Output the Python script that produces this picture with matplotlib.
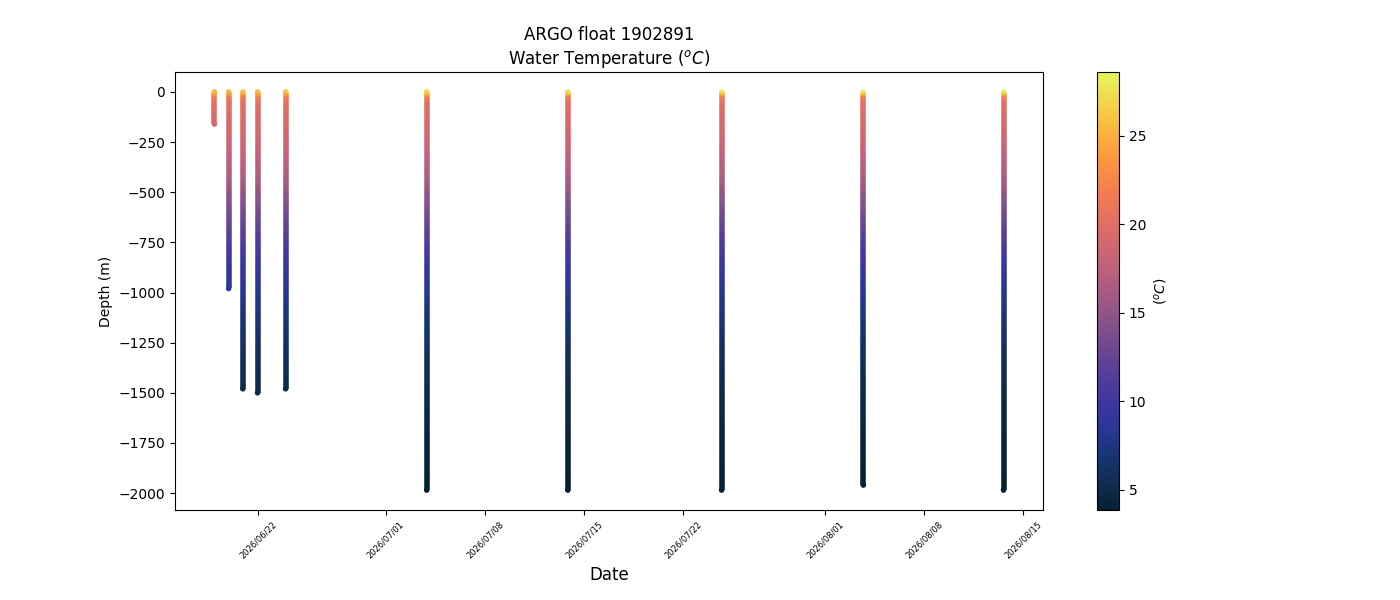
import datetime as dt

import matplotlib
matplotlib.use("Agg")
import matplotlib.pyplot as plt
import matplotlib.dates as mdates
import numpy as np
from matplotlib.colors import LinearSegmentedColormap, Normalize
from matplotlib.collections import LineCollection

# Profile dates (one profile per cycle) and max depth reached
profile_dates = [
    dt.datetime(2026, 6, 18, 22, 0),
    dt.datetime(2026, 6, 19, 22, 0),
    dt.datetime(2026, 6, 20, 22, 0),
    dt.datetime(2026, 6, 21, 23, 0),
    dt.datetime(2026, 6, 23, 22, 30),
    dt.datetime(2026, 7, 3, 21, 30),
    dt.datetime(2026, 7, 13, 20, 30),
    dt.datetime(2026, 7, 24, 17, 0),
    dt.datetime(2026, 8, 3, 17, 0),
    dt.datetime(2026, 8, 13, 14, 30),
]
max_depths = [160, 980, 1480, 1500, 1480, 1985, 1985, 1985, 1960, 1985]

# temperature near surface (0, 10, 20 m) for each profile
surface_levels = [0, 10, 20]
surface_temps = [
    [25.5, 24.0, 22.5],
    [25.5, 24.0, 22.5],
    [25.8, 24.3, 22.5],
    [25.8, 24.3, 22.5],
    [26.0, 24.5, 22.5],
    [27.0, 25.0, 23.0],
    [27.5, 25.5, 23.0],
    [28.0, 25.5, 23.0],
    [28.6, 25.5, 23.0],
    [28.5, 25.5, 23.0],
]

# common temperature profile below 20 m
deep_levels = [30, 50, 75, 100, 125, 150, 160, 175, 200, 225, 250, 275, 300, 325,
               350, 375, 400, 425, 450, 475, 500, 525, 550, 575, 600, 625, 650,
               675, 700, 725, 750, 775, 800, 825, 850, 875, 900, 925, 950, 980,
               1000, 1025, 1050, 1075, 1100, 1125, 1150, 1175, 1200, 1225, 1250,
               1275, 1300, 1325, 1350, 1375, 1400, 1425, 1450, 1480, 1500, 1525,
               1550, 1575, 1600, 1625, 1650, 1675, 1700, 1725, 1750, 1775, 1800,
               1825, 1850, 1875, 1900, 1925, 1960, 1985]
deep_temps = [21.5, 20.6, 20.1, 19.8, 19.6, 19.4, 19.3, 19.2, 19.0, 18.8, 18.6,
              18.4, 18.1, 17.8, 17.5, 17.2, 16.9, 16.5, 16.1, 15.7, 15.2, 14.8,
              14.3, 13.9, 13.5, 13.1, 12.7, 12.3, 11.9, 11.5, 11.1, 10.7, 10.4,
              10.1, 9.8, 9.5, 9.2, 8.9, 8.7, 8.4, 8.2, 7.9, 7.7, 7.5, 7.3, 7.1,
              6.9, 6.7, 6.5, 6.35, 6.2, 6.05, 5.9, 5.8, 5.65, 5.55, 5.4, 5.3,
              5.2, 5.1, 5.0, 4.9, 4.85, 4.75, 4.7, 4.6, 4.55, 4.5, 4.4, 4.35,
              4.3, 4.25, 4.2, 4.15, 4.1, 4.05, 4.0, 3.95, 3.9, 3.85]

# approximation of cmocean "thermal"
thermal = LinearSegmentedColormap.from_list("thermal", [
    (0.00, (0.020, 0.130, 0.195)),
    (0.05, (0.055, 0.170, 0.300)),
    (0.12, (0.090, 0.205, 0.450)),
    (0.18, (0.160, 0.215, 0.580)),
    (0.25, (0.250, 0.215, 0.630)),
    (0.32, (0.350, 0.250, 0.590)),
    (0.40, (0.480, 0.305, 0.555)),
    (0.46, (0.590, 0.335, 0.530)),
    (0.52, (0.690, 0.365, 0.505)),
    (0.58, (0.780, 0.395, 0.465)),
    (0.65, (0.870, 0.430, 0.400)),
    (0.72, (0.945, 0.480, 0.325)),
    (0.80, (0.980, 0.590, 0.245)),
    (0.86, (0.975, 0.700, 0.240)),
    (0.93, (0.950, 0.830, 0.290)),
    (1.00, (0.900, 0.965, 0.360)),
])

# build the point lists, one profile at a time
profiles = []
for date, maxd, stemps in zip(profile_dates, max_depths, surface_temps):
    lv = surface_levels + deep_levels
    tv = stemps + deep_temps
    d = [-z for z in lv if z <= maxd]
    t = [tt for z, tt in zip(lv, tv) if z <= maxd]
    profiles.append((date, d, t))

all_temps = [tt for p in profiles for tt in p[2]]
norm = Normalize(vmin=min(all_temps), vmax=max(all_temps))

fig, ax = plt.subplots(figsize=(14, 6), dpi=100)
fig.subplots_adjust(bottom=0.15)

for date, d, t in profiles:
    x = mdates.date2num(date)
    segs = [[(x, d[i]), (x, d[i + 1])] for i in range(len(d) - 1)]
    seg_t = [(t[i] + t[i + 1]) / 2 for i in range(len(t) - 1)]
    lc = LineCollection(segs, cmap=thermal, norm=norm, linewidths=4.0,
                        capstyle='butt')
    lc.set_array(np.array(seg_t))
    ax.add_collection(lc)
    # rounded ends of each profile
    ax.scatter([date, date], [d[0], d[-1]], c=[t[0], t[-1]], cmap=thermal,
               norm=norm, s=16, linewidths=0)

cb = plt.colorbar(lc, ax=ax)
cb.set_label('($^oC$)')

ax.set_title('ARGO float 1902891\nWater Temperature ($^oC$)')
ax.set_ylabel('Depth (m)')
ax.set_xlabel('Date', fontsize=12)

ax.xaxis.set_major_locator(mdates.DayLocator(bymonthday=[1, 8, 15, 22]))
ax.xaxis.set_major_formatter(mdates.DateFormatter('%Y/%m/%d'))
plt.setp(ax.get_xticklabels(), rotation=45, fontsize=6)

plt.savefig('out.png')
